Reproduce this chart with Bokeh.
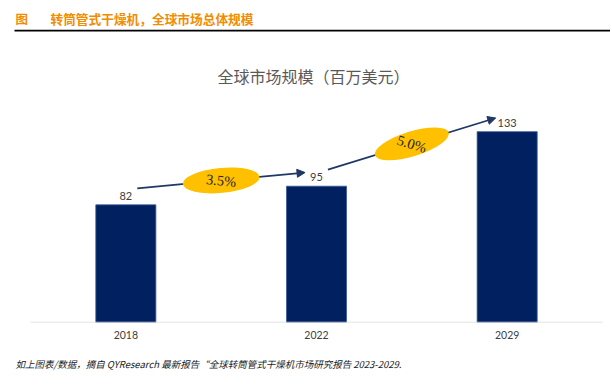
import math
from bokeh.plotting import figure
from bokeh.models import Label, BoxAnnotation, Arrow, NormalHead, Range1d, FixedTicker, ColumnDataSource, Title
from bokeh.core.properties import value
from bokeh.embed import file_html
from bokeh.resources import INLINE

# ---- data ----
years = ["2018", "2022", "2029"]
values = [82, 95, 133]
cagr = ["3.5%", "5.0%"]

header_fig = "图"
header_text = "转筒管式干燥机，全球市场总体规模"
chart_title = "全球市场规模（百万美元）"
footnote = "如上图表/数据，摘自 QYResearch 最新报告“全球转筒管式干燥机市场研究报告 2023-2029."

# ---- layout (canvas pixels) ----
W, H = 610, 382
AX_Y = 322            # baseline of the bars
AX_L, AX_R = 30, 602  # span of the category axis
px_x = (AX_R - AX_L) / 3.0
px_y = 1.435
x0_r = -AX_L / px_x
x1_r = (W - AX_L) / px_x
y1_r = AX_Y / px_y

NAVY = "#002060"
CJK = "Noto Sans CJK SC"
ORANGE = "#F28C00"

foot = Title(text=footnote, align="left", offset=15,
             text_font=CJK, text_font_style="italic", text_font_size="9.5px",
             text_color="#1A1A1A")

p = figure(width=W, height=H, output_backend="svg", toolbar_location=None,
           x_range=Range1d(x0_r, x1_r), y_range=Range1d(0, y1_r),
           min_border_left=0, min_border_right=0, min_border_top=0,
           min_border_bottom=H - AX_Y, title=foot, title_location="below")
p.outline_line_color = None
p.xgrid.visible = False
p.ygrid.visible = False
p.yaxis.visible = False

xs = [i + 0.5 for i in range(len(years))]
src = ColumnDataSource(dict(x=xs, top=values, lab=[str(v) for v in values]))
p.vbar(x="x", top="top", width=0.315, source=src, fill_color=NAVY,
       line_color="#3A5A9A", line_width=0.8)
p.text(x="x", y="top", text="lab", source=src, text_align="center", text_baseline="bottom",
       y_offset=-5, text_font=value("Lato"), text_font_size="11px", text_color="#404040")

# baseline spanning the categories
p.segment(x0=[0], y0=[0], x1=[len(years)], y1=[0], line_color="#D9D9D9", line_width=1.3)

ax = p.xaxis[0]
ax.ticker = FixedTicker(ticks=xs)
ax.major_label_overrides = {x: y for x, y in zip(xs, years)}
ax.major_tick_in = 0
ax.major_tick_out = 0
ax.minor_tick_in = 0
ax.minor_tick_out = 0
ax.axis_line_color = None
ax.major_label_standoff = 8
ax.major_label_text_font = "Lato"
ax.major_label_text_font_size = "10.5px"
ax.major_label_text_color = "#404040"
ax.axis_label = " "
ax.axis_label_text_font_size = "4px"
ax.axis_label_standoff = 0

# growth arrows + CAGR ellipses
ex, ey, ang = [], [], []
for i in range(len(cagr)):
    x0, y0 = xs[i] + 0.06, values[i] + 11.5
    x1, y1 = xs[i + 1] - 0.06, values[i + 1] + 9.5
    p.add_layout(Arrow(end=NormalHead(size=8, fill_color="#1F3864", line_color="#1F3864"),
                       x_start=x0, y_start=y0, x_end=x1, y_end=y1,
                       line_color="#1F3864", line_width=1.8))
    ex.append((x0 + x1) / 2)
    ey.append((y0 + y1) / 2)
    ang.append(math.atan2((y1 - y0) * px_y, (x1 - x0) * px_x))

esrc = ColumnDataSource(dict(x=ex, y=ey, a=ang, ta=[-a for a in ang], t=cagr))
p.ellipse(x="x", y="y", width=77, height=25, width_units="screen", height_units="screen",
          angle="a", source=esrc, fill_color="#FFC000", line_color=None, level="overlay")
p.text(x="x", y="y", text="t", angle="ta", source=esrc, text_align="center", text_baseline="middle",
       text_font=value("Liberation Serif"), text_font_size="14.5px", text_color="#262626",
       level="overlay")

# header, rule and chart title (canvas units, inside the frame)
p.add_layout(Label(x=15, y=18, x_units="canvas", y_units="canvas", text=header_fig,
                   text_font=CJK, text_font_style="bold", text_font_size="12.5px",
                   text_color=ORANGE, text_baseline="middle"))
p.add_layout(Label(x=50, y=18, x_units="canvas", y_units="canvas", text=header_text,
                   text_font=CJK, text_font_style="bold", text_font_size="12.7px",
                   text_color=ORANGE, text_baseline="middle"))
p.add_layout(BoxAnnotation(left=14, right=W, top=29.2, bottom=31, left_units="canvas",
                           right_units="canvas", top_units="canvas", bottom_units="canvas",
                           fill_color="black", fill_alpha=1, line_color=None))
p.add_layout(Label(x=313, y=75, x_units="canvas", y_units="canvas", text=chart_title,
                   text_font=CJK, text_font_size="16px", text_color="#595959",
                   text_align="center", text_baseline="middle"))

open("out.html", "w").write(file_html(p, INLINE))
